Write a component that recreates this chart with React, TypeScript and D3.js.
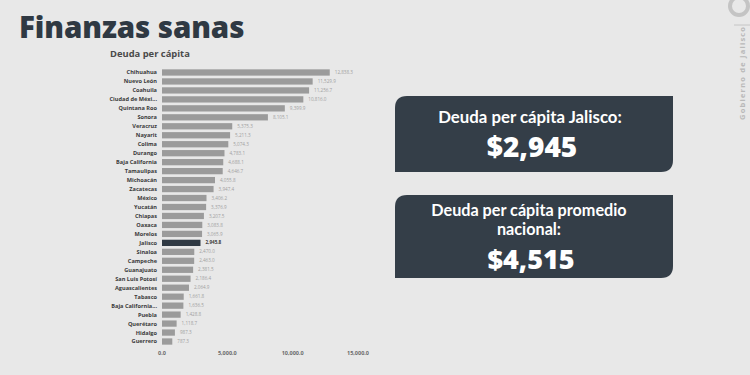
import React from "react";
import * as d3 from "d3";

const states = [
  "Chihuahua", "Nuevo León", "Coahuila", "Ciudad de Méxi...", "Quintana Roo", "Sonora",
  "Veracruz", "Nayarit", "Colima", "Durango", "Baja California", "Tamaulipas",
  "Michoacán", "Zacatecas", "México", "Yucatán", "Chiapas", "Oaxaca", "Morelos",
  "Jalisco", "Sinaloa", "Campeche", "Guanajuato", "San Luis Potosí", "Aguascalientes",
  "Tabasco", "Baja California...", "Puebla", "Querétaro", "Hidalgo", "Guerrero",
];
const debt = [
  12838.3, 11529.9, 11256.7, 10816.0, 9399.9, 8105.1,
  5375.3, 5211.3, 5074.3, 4783.1, 4688.1, 4646.7,
  4055.8, 3947.4, 3406.2, 3376.9, 3207.5, 3083.8, 3065.9,
  2945.8, 2470.0, 2463.0, 2381.5, 2186.4, 2064.9,
  1661.8, 1636.5, 1428.8, 1118.7, 987.3, 787.3,
];
const xTicks = [0, 5000, 10000, 15000];
const highlight = "Jalisco";

const fmt = d3.format(",.1f");

export default function App() {
  const W = 750, H = 375;
  const x = d3.scaleLinear().domain([0, 15000]).range([162, 358]);
  const y = d3.scaleBand().domain(states).range([68, 346]).paddingInner(0.3).paddingOuter(0.15);
  const bh = y.bandwidth();
  const boxPath = (x0: number, y0: number, w: number, h: number, r: number) =>
    `M${x0},${y0 + r} Q${x0},${y0} ${x0 + r},${y0} L${x0 + w},${y0} L${x0 + w},${y0 + h - r} Q${x0 + w},${y0 + h} ${x0 + w - r},${y0 + h} L${x0},${y0 + h} Z`;
  return (
    <svg width={W} height={H} style={{ position: "absolute", left: 0, top: 0 }}>
      <rect x={0} y={0} width={W} height={H} fill="#e8e8e8" />
      <text x={19} y={38} fontFamily="'Open Sans', sans-serif" fontWeight={800} fontSize={29.5} fill="#2f3943" letterSpacing={-0.1}>
        Finanzas sanas
      </text>
      <text x={110} y={57} fontFamily="'Open Sans', sans-serif" fontWeight={700} fontSize={9.4} fill="#4a4a4a">
        Deuda per cápita
      </text>
      {states.map((s, i) => {
        const yy = y(s)!;
        const isH = s === highlight;
        return (
          <g key={s}>
            <rect x={x(0)} y={yy} width={x(debt[i]) - x(0)} height={bh}
              fill={isH ? "#2f3943" : "#9b9b9b"} />
            <text x={157} y={yy + bh / 2} dy="0.35em" textAnchor="end"
              fontFamily="'Open Sans', sans-serif" fontWeight={700} fontSize={5.6} fill="#3a3a3a">
              {s}
            </text>
            <text x={x(debt[i]) + 5} y={yy + bh / 2} dy="0.35em"
              fontFamily="'Open Sans', sans-serif" fontWeight={isH ? 700 : 400} fontSize={4.6}
              fill={isH ? "#3a3a3a" : "#a0a0a0"}>
              {fmt(debt[i])}
            </text>
          </g>
        );
      })}
      {xTicks.map((t) => (
        <text key={t} x={x(t)} y={355} textAnchor="middle"
          fontFamily="'Open Sans', sans-serif" fontWeight={700} fontSize={5.5} fill="#6a6a6a">
          {fmt(t)}
        </text>
      ))}
      <path d={boxPath(395, 96, 278, 76, 12)} fill="#343e48" />
      <text x={530} y={123} textAnchor="middle" fontFamily="Lato, sans-serif" fontWeight={700} fontSize={16.8} fill="#fff">
        Deuda per cápita Jalisco:
      </text>
      <text x={532} y={157} textAnchor="middle" fontFamily="'Open Sans', sans-serif" fontWeight={800} fontSize={28} fill="#fff">
        $2,945
      </text>
      <path d={boxPath(395, 195, 278, 83, 12)} fill="#343e48" />
      <text x={529} y={216} textAnchor="middle" fontFamily="Lato, sans-serif" fontWeight={700} fontSize={16.2} fill="#fff">
        Deuda per cápita promedio
      </text>
      <text x={529} y={235} textAnchor="middle" fontFamily="Lato, sans-serif" fontWeight={700} fontSize={16.2} fill="#fff">
        nacional:
      </text>
      <text x={531} y={269} textAnchor="middle" fontFamily="'Open Sans', sans-serif" fontWeight={800} fontSize={27} fill="#fff">
        $4,515
      </text>
      <circle cx={739} cy={6} r={9} fill="none" stroke="#c4c4c4" strokeWidth={4} />
      <line x1={734} y1={25} x2={750} y2={25} stroke="#bdbdbd" strokeWidth={0.8} />
      <text transform="translate(745,120) rotate(-90)" fontFamily="'Open Sans', sans-serif" fontWeight={700}
        fontSize={7.5} fill="#b9b9b9" letterSpacing={1.2}>
        Gobierno de Jalisco
      </text>
    </svg>
  );
}
